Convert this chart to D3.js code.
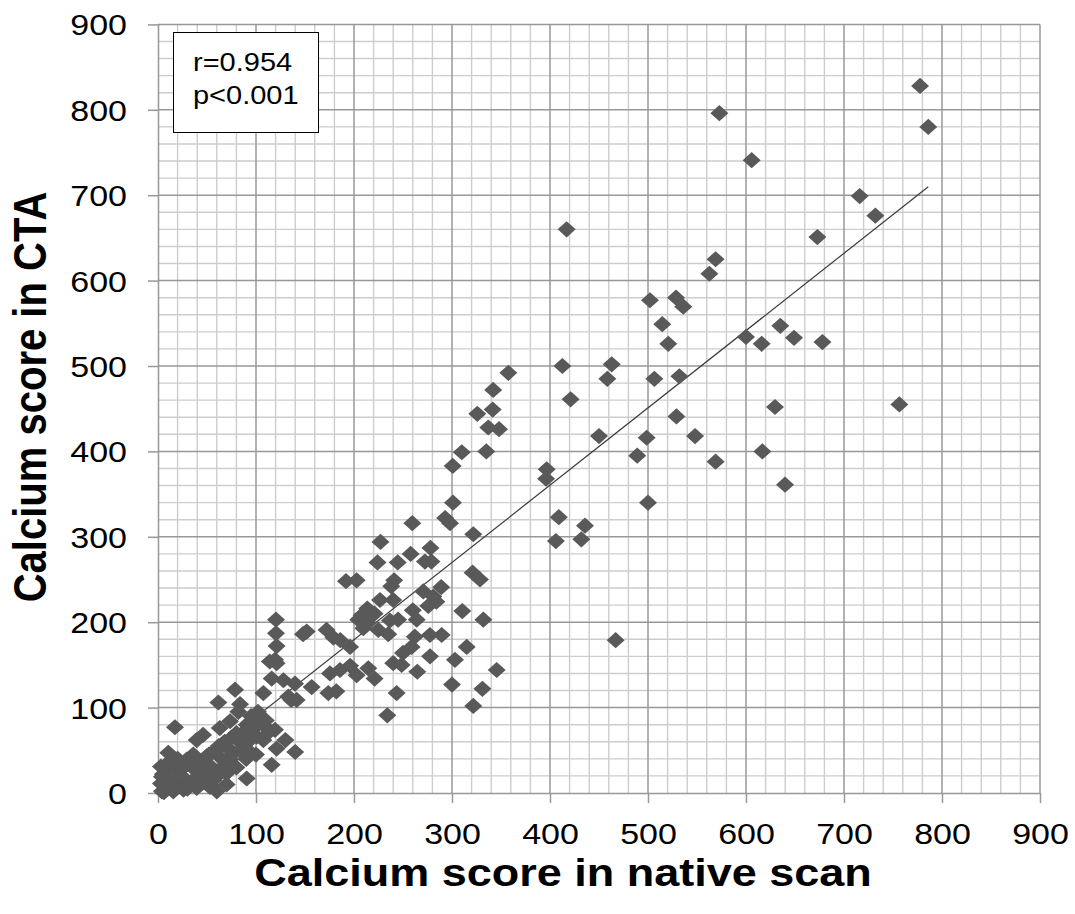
<!DOCTYPE html>
<html>
<head>
<meta charset="utf-8">
<script src="https://cdn.jsdelivr.net/npm/d3@7"></script>
<style>
  body { margin: 0; background: #fff; }
  svg { display: block; }
  text { font-family: "Liberation Sans", Arial, sans-serif; fill: #000; }
</style>
</head>
<body>
<svg id="chart" width="1075" height="914"></svg>
<script>
// data ---------------------------------------------------------------------------------
const nativeScore = [
  572.8, 777.6, 786, 605.8, 716, 732, 672.8, 569, 562.6, 635, 600, 616, 649, 678, 629.6, 756.5, 548, 616.7, 569, 639.8,
  417, 502, 528.6, 536, 514.6, 520.7, 412.6, 463, 458.5, 506.5, 532, 421, 529, 450, 498.6, 489, 396.6, 396, 500, 409,
  435.7, 406, 432, 467,
  357.5, 342, 325.8, 341.5, 337, 348, 310, 335, 300.7, 301,
  293, 298, 259.5, 321.7, 227, 278, 257.8, 224, 244.6, 272.4, 279, 321, 328.6, 191.8, 202.7, 241, 238, 270.7, 289, 281,
  226.5, 240, 213.6, 221, 207.8, 260, 275.8, 284, 204.4, 214, 236.7, 245, 264, 310.5, 332, 209.5, 224.8, 235, 148, 172,
  179, 196, 186, 262, 277.5, 289.5, 250, 258.8, 277.6, 315, 240, 248.6, 264.6, 303, 345.6, 175.5, 185.7, 196, 214.6, 221,
  202.7, 300, 331, 243.5, 321.7, 234, 139.8, 156.8, 173.8, 141.5,
  120.4, 120.4, 151.7, 121, 114, 119.4, 121, 116, 128, 78.6, 107.5, 133, 136, 182, 61.6, 83.7, 82, 102, 17.3, 73.5,
  90.5, 107.5, 111, 119.4, 46, 39.5, 63, 10.5, 140, 121, 116, 90.5, 76.8, 66.7, 94, 100.7, 107.5, 83.7, 60, 49.7,
  36, 29.3, 25.8, 19, 8.9, 3, 4, 3, 4, 9, 19, 29, 39.5, 49.7, 56.5, 70, 73.5, 53, 39.5, 26,
  15.6, 6, 60, 43,
  12, 22, 32, 35, 45, 48, 52, 55, 58, 62, 65, 68, 72, 75, 80, 85, 88, 92, 95, 98,
  102, 110, 112, 60, 45, 30, 70, 80, 90, 100, 65, 20, 5, 10, 130, 95
];
const ctaScore = [
  796, 828, 780, 741, 699, 676, 651, 625, 608, 547, 534, 526, 533, 528, 452, 455, 418, 400, 388, 361,
  660, 577, 580, 569.5, 549, 526, 500, 502, 485, 485, 488, 461, 441, 418, 416, 395, 379, 368, 340, 323,
  313, 295, 297, 179,
  492, 472, 444, 449, 428, 426, 399, 400, 383, 340,
  322, 316, 316, 303, 294, 287, 280, 270, 270, 271, 271, 258, 250, 248, 249, 249, 242, 236, 241, 230,
  226, 226, 216, 210, 208, 214, 219, 224, 203, 199, 202, 203, 203, 213, 203, 193, 191, 186, 186, 191,
  182, 171, 179, 183, 185, 185, 164, 171, 160, 171, 152, 150, 142, 156, 144, 140, 144, 149, 146, 134,
  138, 127, 122, 117, 102, 91, 128, 124, 117, 109,
  203, 187, 189, 172, 154, 156, 152, 134, 132, 121, 117, 113, 109, 119, 106, 104, 95, 95, 77, 84,
  80, 86, 76, 74, 68, 62, 76, 47, 48, 52, 33, 17, 46, 31, 62, 66, 62, 50, 50, 43,
  45, 39, 31, 27, 27, 31, 19, 11, 2, 7, 11, 15, 19, 23, 15, 23, 39, 7, 6, 4,
  2, 1, 2, 35,
  15, 20, 10, 30, 28, 40, 45, 30, 50, 55, 40, 60, 52, 65, 70, 58, 72, 50, 75, 68,
  80, 85, 70, 20, 12, 5, 10, 30, 40, 45, 25, 40, 22, 35, 62, 90
];
const axisTicks = [0, 100, 200, 300, 400, 500, 600, 700, 800, 900];
const statLines = ["r=0.954", "p<0.001"];
const xTitle = "Calcium score in native scan";
const yTitle = "Calcium score in CTA";
const trendSlope = 0.905;
const trendIntercept = -1.5;

// sizes ------------------------------------------------------------------------------------
const width = 1075, height = 914;
const SY = 0.87;   // picture is a bit squashed vertically
const svg = d3.select('#chart');

const xScale = d3.scaleLinear().domain([0, 900]).range([158, 1040]);
const yScale = d3.scaleLinear().domain([0, 900]).range([793, 24.4]);

// grid ---------------------------------------------------------------------------------------
const minor = d3.range(0, 901, 20).filter(v => v % 100 !== 0);
const grid = svg.append('g').attr('id', 'grid');
grid.selectAll('.vminor').data(minor).enter().append('line')
  .attr('x1', d => xScale(d)).attr('x2', d => xScale(d))
  .attr('y1', yScale(0)).attr('y2', yScale(900))
  .attr('stroke', '#cdcdcd').attr('stroke-width', 1.4);
grid.selectAll('.hminor').data(minor).enter().append('line')
  .attr('y1', d => yScale(d)).attr('y2', d => yScale(d))
  .attr('x1', xScale(0)).attr('x2', xScale(900))
  .attr('stroke', '#cdcdcd').attr('stroke-width', 1.4);
grid.selectAll('.vmajor').data(axisTicks.slice(1)).enter().append('line')
  .attr('x1', d => xScale(d)).attr('x2', d => xScale(d))
  .attr('y1', yScale(0)).attr('y2', yScale(900))
  .attr('stroke', '#989898').attr('stroke-width', 1.5);
grid.selectAll('.hmajor').data(axisTicks.slice(1)).enter().append('line')
  .attr('y1', d => yScale(d)).attr('y2', d => yScale(d))
  .attr('x1', xScale(0)).attr('x2', xScale(900))
  .attr('stroke', '#989898').attr('stroke-width', 1.5);

// axes ---------------------------------------------------------------------------------------
const xAxis = svg.append('g')
  .attr('transform', 'translate(0,' + yScale(0) + ')')
  .call(d3.axisBottom(xScale).tickValues(axisTicks).tickSize(10).tickSizeOuter(0));
const yAxis = svg.append('g')
  .attr('transform', 'translate(' + xScale(0) + ',0)')
  .call(d3.axisLeft(yScale).tickValues(axisTicks).tickSize(10).tickSizeOuter(0));
svg.selectAll('.domain').attr('stroke', '#989898').attr('stroke-width', 1.5);
svg.selectAll('.tick line').attr('stroke', '#989898').attr('stroke-width', 1.5);
xAxis.selectAll('text')
  .attr('y', null).attr('dy', null)
  .attr('transform', 'translate(0,51) scale(1,' + SY + ')')
  .attr('font-size', '34px').attr('fill', '#000');
yAxis.selectAll('text')
  .attr('x', -31).attr('dy', null)
  .attr('transform', 'translate(0,10.5) scale(1,' + SY + ')')
  .attr('font-size', '34px').attr('fill', '#000');

// trend line -------------------------------------------------------------------------------
const xExt = d3.extent(nativeScore);
svg.append('path')
  .datum(xExt.map(v => [v, trendIntercept + trendSlope * v]))
  .attr('fill', 'none')
  .attr('stroke', '#3a3a3a')
  .attr('stroke-width', 1.2)
  .attr('d', d3.line().x(d => xScale(d[0])).y(d => yScale(d[1])));

// points -------------------------------------------------------------------------------------
const diamond = d3.symbol(d3.symbolSquare, 162);
svg.append('g').selectAll('path')
  .data(nativeScore.map((v, i) => [v, ctaScore[i]]))
  .enter().append('path')
  .attr('d', diamond)
  .attr('transform', d => 'translate(' + xScale(d[0]) + ',' + yScale(d[1]) + ') scale(1,0.9) rotate(45)')
  .attr('fill', '#595959');

// stat box -----------------------------------------------------------------------------------
svg.append('rect')
  .attr('x', 173.5).attr('y', 32.5).attr('width', 145).attr('height', 100)
  .attr('fill', '#fff').attr('stroke', '#000').attr('stroke-width', 1);
svg.selectAll('.stat').data(statLines).enter().append('text')
  .attr('class', 'stat')
  .attr('transform', (d, i) => 'translate(193,' + (71 + 33 * i) + ') scale(1,' + SY + ')')
  .attr('font-size', '29px')
  .text(d => d);

// titles -------------------------------------------------------------------------------------
svg.append('text')
  .attr('transform', 'translate(563,886) scale(1,' + SY + ')')
  .attr('text-anchor', 'middle')
  .attr('font-size', '45px').attr('font-weight', 'bold')
  .text(xTitle);
svg.append('text')
  .attr('transform', 'translate(46,397) scale(1,' + SY + ') rotate(-90)')
  .attr('text-anchor', 'middle')
  .attr('font-size', '46px').attr('font-weight', 'bold')
  .text(yTitle);
</script>
</body>
</html>
